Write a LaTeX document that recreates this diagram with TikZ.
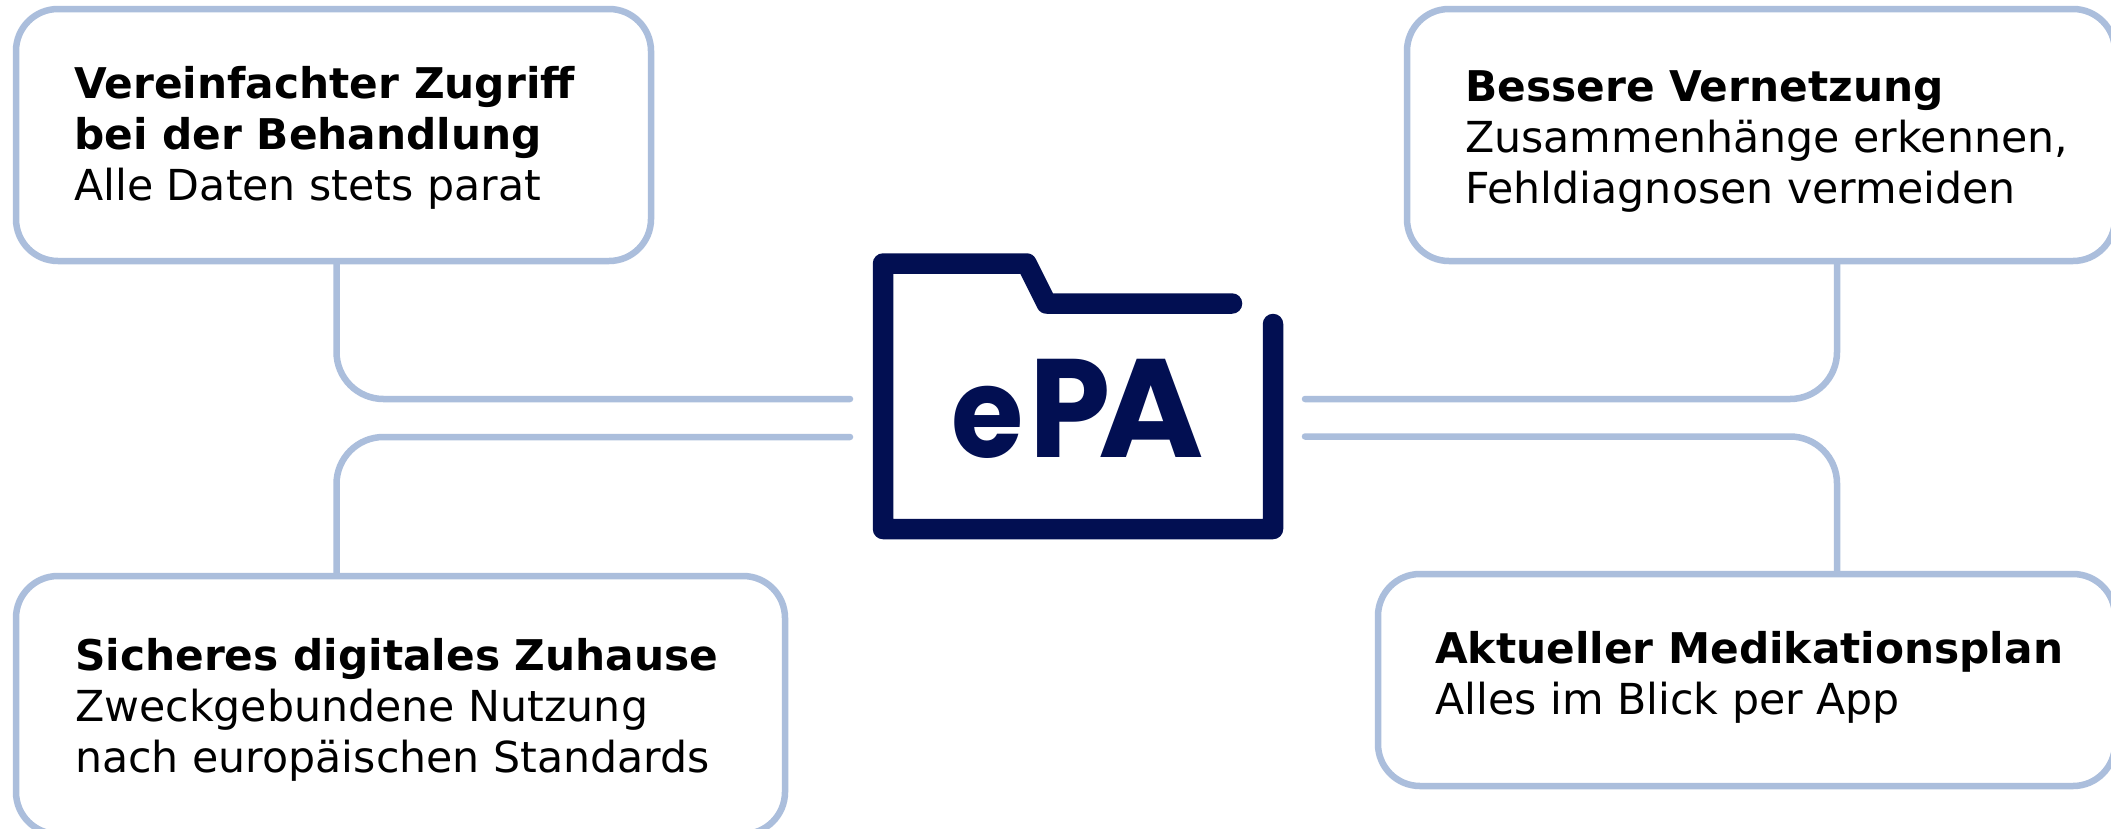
\documentclass[tikz,border=0pt]{standalone}
\usepackage{fontspec}
\usepackage{graphicx}
\setmainfont{DejaVu Sans}
\newfontfamily\logofont[FakeStretch=0.93]{Poppins}
\newcommand{\hd}[1]{{\fontsize{42.3}{51}\selectfont\bfseries #1}}
\definecolor{edgeblue}{HTML}{ABBEDC}
\definecolor{navy}{HTML}{020F52}
\tikzset{
  card/.style={draw=edgeblue,line width=6.5pt,rounded corners=42pt,fill=white,inner sep=0pt},
  cardtext/.style={anchor=west,align=left,inner sep=0pt,text=black,font=\fontsize{42.7}{51}\selectfont},
  link/.style={draw=edgeblue,line width=6.5pt,line cap=round,rounded corners=47pt},
  folder/.style={draw=navy,line width=20.5pt,line cap=round,line join=round}
}
\begin{document}
\begin{tikzpicture}[x=1pt,y=-1pt]
\useasboundingbox (0,0) rectangle (2111,828);
\fill[white] (0,0) rectangle (2111,828);
% connector ends
\coordinate (tl) at (850,399);
\coordinate (bl) at (850,437);
\coordinate (tr) at (1305,399);
\coordinate (br) at (1305,436.5);
\coordinate (xl) at (336.5,0);
\coordinate (xr) at (1837,0);
% boxes
\node[card,minimum width=635pt,minimum height=252pt] (b1) at (333.5,135) {};
\node[card,minimum width=708pt,minimum height=252pt] (b2) at (1761,135) {};
\node[card,minimum width=769pt,minimum height=258pt] (b3) at (400.5,705) {};
\node[card,minimum width=737pt,minimum height=212pt] (b4) at (1746.5,680) {};
% connectors
\draw[link] (xl |- b1.south) -- (xl |- tl) -- (tl);
\draw[link] (xl |- b3.north) -- (xl |- bl) -- (bl);
\draw[link] (xr |- b2.south) -- (xr |- tr) -- (tr);
\draw[link] (xr |- b4.north) -- (xr |- br) -- (br);
% texts
\node[cardtext] (t1) at (74,137.5) {\hd{Vereinfachter Zugriff}\\\hd{bei der Behandlung}\\Alle Daten stets parat};
\node[cardtext] (t2) at (1465,142) {\hd{Bessere Vernetzung}\\Zusammenhänge erkennen,\\Fehldiagnosen vermeiden};
\node[cardtext] (t3) at (75,709.5) {\hd{Sicheres digitales Zuhause}\\Zweckgebundene Nutzung\\nach europäischen Standards};
\node[cardtext] (t4) at (1435,677.5) {\hd{Aktueller Medikationsplan}\\Alles im Blick per App};
% folder
\coordinate (f1) at (1232,303.5);
\coordinate (f2) at (1046.6,303.5);
\coordinate (f3) at (1026.6,263.5);
\coordinate (f4) at (883,263.5);
\coordinate (f5) at (883,529);
\coordinate (f6) at (1273,529);
\coordinate (f7) at (1273,324);
\draw[folder] (f1) -- (f2) -- (f3) -- (f4) -- (f5) -- (f6) -- (f7);
\node[inner sep=0pt,anchor=base,text=navy,font={\logofont\bfseries\fontsize{140}{140}\selectfont}] (logo) at (1078,457) {\scalebox{0.9}{e}\kern6ptP\kern-12pt\scalebox{1.1}[1]{A}};
\end{tikzpicture}
\end{document}
